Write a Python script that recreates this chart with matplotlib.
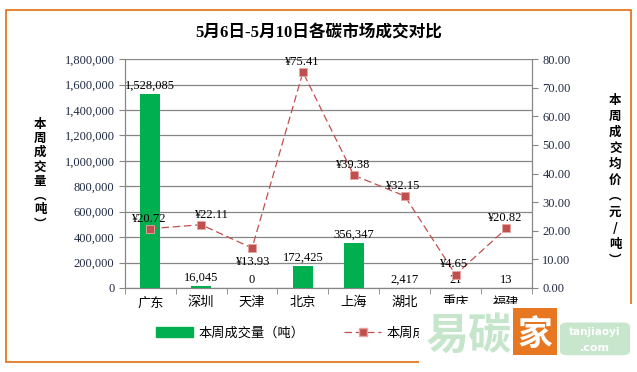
import numpy as np
import matplotlib.pyplot as plt
from matplotlib.patches import Rectangle, FancyBboxPatch
from matplotlib.lines import Line2D
from matplotlib.ticker import FuncFormatter, MultipleLocator, FixedLocator

cities = ["广东", "深圳", "天津", "北京", "上海", "湖北", "重庆", "福建"]
volume = [1528085, 16045, 0, 172425, 356347, 2417, 21, 13]
price = [20.72, 22.11, 13.93, 75.41, 39.38, 32.15, 4.65, 20.82]

CJK = ["Noto Sans CJK SC", "DejaVu Sans"]
SERIF = ["Liberation Serif", "Noto Sans CJK SC"]
green = "#00B050"
red = "#C0504D"
grid = "#868686"
navy = "#1F2A44"

fig = plt.figure(figsize=(6.37, 3.72), dpi=100)
ax = fig.add_axes([0.196, 0.226, 0.639, 0.615])
ax2 = ax.twinx()

x = np.arange(len(cities))
ax.bar(x, volume, width=0.4, color=green, zorder=3)
ax.set_xlim(-0.5, len(cities) - 0.5)
ax.set_ylim(0, 1800000)
ax.yaxis.set_major_locator(MultipleLocator(200000))
ax.yaxis.set_major_formatter(FuncFormatter(lambda v, p: f"{int(v):,}"))
ax.grid(axis="y", color=grid, lw=0.9, zorder=0)
ax.set_axisbelow(True)

ax.set_xticks(x)
ax.set_xticklabels(cities, fontfamily=CJK, fontsize=9.5)
ax.xaxis.set_minor_locator(FixedLocator(np.arange(-0.5, len(cities), 1.0)))
ax.tick_params(axis="x", which="major", length=0, pad=6)
ax.tick_params(axis="x", which="minor", length=4, color=grid)
ax.tick_params(axis="y", length=4, color=grid, labelsize=9, labelcolor=navy)
for lab in ax.get_yticklabels():
    lab.set_fontfamily(SERIF)

ax2.plot(x, price, color=red, lw=0.9, ls=(0, (6, 3)), marker="s", ms=6,
         mfc=red, mec="#E6A5A3", mew=0.6, zorder=4)
ax2.set_ylim(0, 80)
ax2.yaxis.set_major_locator(MultipleLocator(10))
ax2.yaxis.set_major_formatter(FuncFormatter(lambda v, p: f"{v:.2f}"))
ax2.tick_params(axis="y", length=4, color=grid, labelsize=9, labelcolor=navy)
for lab in ax2.get_yticklabels():
    lab.set_fontfamily(SERIF)

for a in (ax, ax2):
    a.spines["top"].set_visible(False)
    for s in ("left", "right", "bottom"):
        a.spines[s].set_color(grid)

# bar labels
for i, v in enumerate(volume):
    ax.annotate(f"{v:,}", (i, v), xytext=(0, 1.5), textcoords="offset points",
                ha="center", va="bottom", fontsize=9, fontfamily=SERIF, zorder=6)

# price labels (天津 sits below its marker, 深圳 nudged right)
for i, p in enumerate(price):
    if cities[i] == "天津":
        off, va = (0, -6), "top"
    elif cities[i] == "深圳":
        off, va = (7, 3), "bottom"
    else:
        off, va = (-1.5, 3), "bottom"
    ax2.annotate(f"¥{p:.2f}", (i, p), xytext=off, textcoords="offset points",
                 ha="center", va=va, fontsize=9, fontfamily=SERIF, zorder=6)

fig.text(0.5, 0.91, "5月6日-5月10日各碳市场成交对比", ha="center", va="center",
         fontsize=12, fontweight="bold", fontfamily=SERIF)

fig.text(0.063, 0.532, "\n".join("本周成交量︵吨︶"), ha="center", va="center",
         fontsize=9, fontweight="bold", fontfamily=CJK, linespacing=1.13)
fig.text(0.966, 0.516, "\n".join("本周成交均价︵元/吨︶"), ha="center", va="center",
         fontsize=9, fontweight="bold", fontfamily=CJK, linespacing=1.3)

handles = [Rectangle((0, 0), 1, 1, color=green),
           Line2D([], [], color=red, lw=0.9, ls=(0, (6, 3)), marker="s", ms=6,
                  mfc=red, mec="#E6A5A3")]
fig.legend(handles, ["本周成交量（吨）", "本周成交均价（元/吨）"],
           loc="center left", bbox_to_anchor=(0.227, 0.105), ncol=2,
           frameon=False, prop={"family": CJK, "size": 9.5},
           handlelength=2.8, columnspacing=3.0, handletextpad=0.4)

# border
fig.patches.append(Rectangle((0.010, 0.027), 0.980, 0.947, transform=fig.transFigure,
                             fill=False, ec="#E46C0A", lw=1.2))

# watermark
fig.patches.append(Rectangle((0.657, 0.0), 0.343, 0.182, transform=fig.transFigure,
                             fc="white", ec="none", zorder=10))
fig.text(0.735, 0.098, "易碳", ha="center", va="center", fontsize=31,
         fontweight="bold", fontfamily=CJK, color="#C5E6CB", zorder=11)
fig.patches.append(Rectangle((0.806, 0.045), 0.068, 0.127, transform=fig.transFigure,
                             fc="#E87722", ec="none", zorder=11))
fig.text(0.840, 0.102, "家", ha="center", va="center", fontsize=25,
         fontweight="bold", fontfamily=CJK, color="white", zorder=12)
fig.patches.append(FancyBboxPatch((0.879, 0.045), 0.110, 0.088,
                                  boxstyle="round,pad=0,rounding_size=0.012",
                                  transform=fig.transFigure, fc="#C8E6CC",
                                  ec="none", zorder=11))
fig.text(0.934, 0.108, "tanjiaoyi", ha="center", va="center", fontsize=7.5,
         color="white", fontweight="bold", zorder=12)
fig.text(0.934, 0.064, ".com", ha="center", va="center", fontsize=8,
         color="white", fontweight="bold", zorder=12)

fig.savefig("out.png", dpi=100)
